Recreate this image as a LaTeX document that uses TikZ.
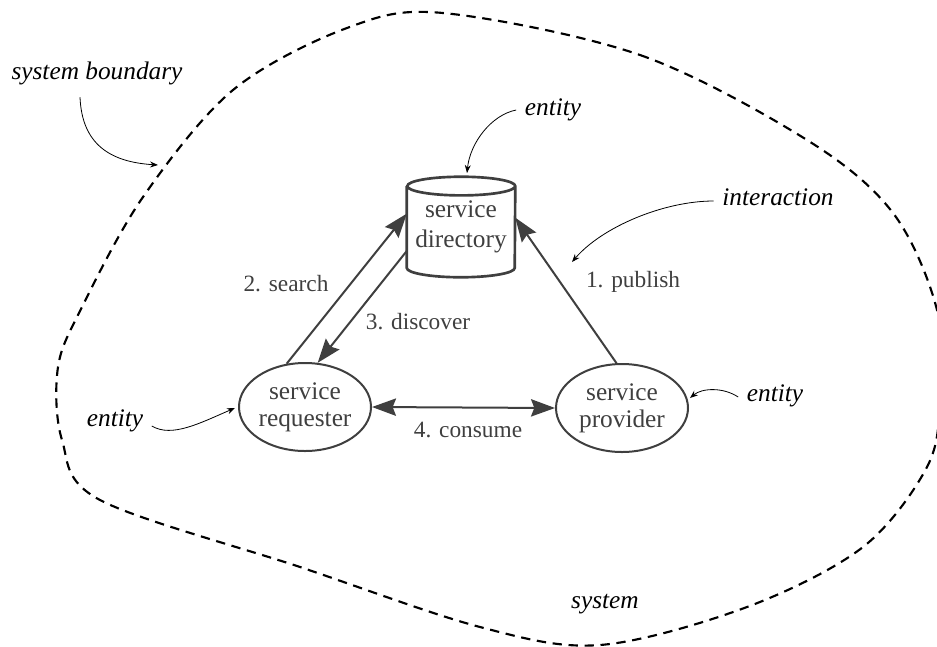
\documentclass[tikz,border=0pt]{standalone}
\usepackage{fontspec}
\setmainfont{Liberation Serif}
\usetikzlibrary{shapes.geometric,arrows.meta}
\definecolor{ink}{HTML}{3F3F3F}

\begin{document}
\begin{tikzpicture}[x=0.75pt,y=-0.75pt]
   \tikzstyle{entity}=[ellipse, draw=ink, line width=1.5pt, text=ink, align=center, inner sep=0pt, minimum width=99pt, minimum height=66pt, font=\fontsize{19}{20}\selectfont]
   \tikzstyle{store}=[rectangle, text=ink, align=center, inner sep=0pt, minimum width=81pt, minimum height=75pt, font=\fontsize{19}{23}\selectfont]
   \tikzstyle{flow}=[draw=ink, line width=1.5pt, -{Stealth[length=18pt,width=13pt,inset=2.5pt]}]
   \tikzstyle{msg}=[text=ink, font=\fontsize{17.5}{20}\selectfont]
   \tikzstyle{remark}=[font=\fontsize{19}{20}\selectfont\itshape]
   \tikzstyle{pointer}=[line width=0.6pt, -{Stealth[length=6pt,width=4.5pt]}]

\useasboundingbox (0,0) rectangle (937,646);

% system boundary
\draw[line width=1.6pt, dash pattern=on 7pt off 5pt]
    plot[smooth cycle, tension=0.55] coordinates {
      (443,13) (640,55) (807,140) (893,213) (937,310) (940,400) (927,467)
      (863,547) (747,607) (600,645) (480,627) (300,567) (100,500) (62,440)
      (58,367) (82,307) (143,197) (233,90) (347,28)};

% entities
\node[store] (dir) at (461,227) {service\\directory};
\draw[ink, line width=2pt]
    ([yshift=-7pt]dir.north west) -- ([yshift=7pt]dir.south west)
    arc[start angle=180, end angle=360, x radius=40.5pt, y radius=7pt]
    -- ([yshift=-7pt]dir.north east)
    arc[start angle=0, end angle=180, x radius=40.5pt, y radius=7pt]
    arc[start angle=180, end angle=360, x radius=40.5pt, y radius=7pt];
\node[entity] (req) at (305,407) {service\\requester};
\node[entity] (prov) at (622,408) {service\\provider};

% interactions
\draw[flow] (req.113) -- ([yshift=10pt]dir.west);
\draw[flow] ([yshift=-18pt]dir.west) -- (req.74);
\draw[flow] (prov.97) -- ([yshift=7pt]dir.east);
\draw[flow, {Stealth[length=18pt,width=13pt,inset=2.5pt]}-{Stealth[length=18pt,width=13pt,inset=2.5pt]}] (req.east) -- (prov.west);

\node[msg] (search) at (286,284) {2. search};
\node[msg] (discover) at (418,322) {3. discover};
\node[msg] (publish) at (633,282) {1. publish};
\node[msg] (consume) at (468,430) {4. consume};

% annotations
\node[remark] (sb) at (97,73) {system boundary};
\node[remark] (ent1) at (553,110) {entity};
\node[remark] (inter) at (778,197) {interaction};
\node[remark] (ent2) at (115,421) {entity};
\node[remark] (ent3) at (775,396) {entity};
\node[remark] (sys) at (605,604) {system};

\coordinate (sbtip) at (158,165);
\coordinate (ent1tip) at (467,173);
\coordinate (intertip) at (572,262);
\coordinate (ent2tip) at (235,408);
\coordinate (ent3tip) at (690,398);

\draw[pointer] ([shift={(-17,8)}]sb.south) .. controls +(2,47) and +(-48,-3) .. (sbtip);
\draw[pointer] ([shift={(-4,0)}]ent1.west) .. controls +(-25,5) and +(3,-30) .. (ent1tip);
\draw[pointer] ([shift={(-4,4)}]inter.west) .. controls +(-50,0) and +(30,-35) .. (intertip);
\draw[pointer] ([shift={(4,5)}]ent2.east) .. controls +(20,12) and +(-35,15) .. (ent2tip);
\draw[pointer] ([shift={(-4,1)}]ent3.west) .. controls +(-15,-10) and +(12,-10) .. (ent3tip);

\end{tikzpicture}
\end{document}
